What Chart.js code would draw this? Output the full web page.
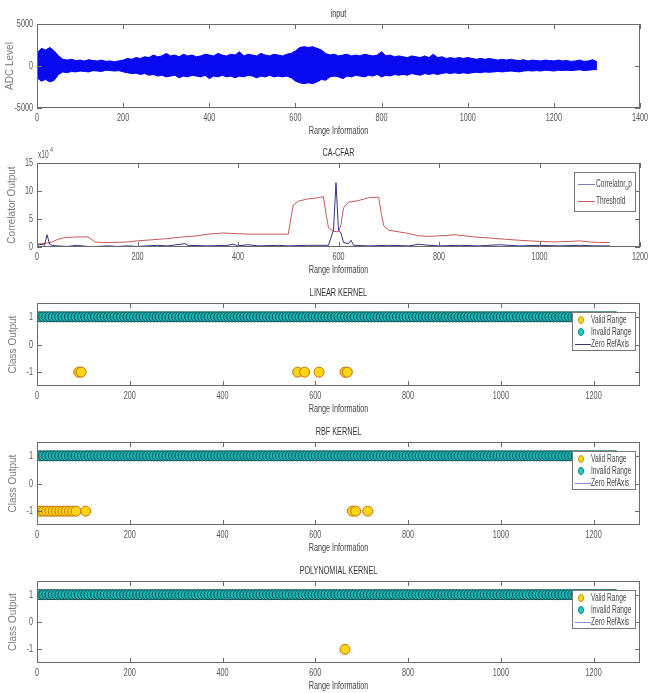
<!DOCTYPE html>
<html>
<head>
<meta charset="utf-8">
<script src="https://cdn.jsdelivr.net/npm/chart.js@4"></script>
<style>
html, body { margin: 0; padding: 0; background: #fff; }
body { width: 649px; height: 693px; position: relative; overflow: hidden; }
.panel { position: absolute; left: 0; width: 649px; }
</style>
</head>
<body>
<div class="panel" id="p1"><canvas id="c1"></canvas></div>
<div class="panel" id="p2"><canvas id="c2"></canvas></div>
<div class="panel" id="p3"><canvas id="c3"></canvas></div>
<div class="panel" id="p4"><canvas id="c4"></canvas></div>
<div class="panel" id="p5"><canvas id="c5"></canvas></div>
<script>
// ---- data ----
var inputStep = 10; // range units between envelope samples
var inputUpper = [1500,2100,1900,2200,1800,1200,800,700,800,650,700,600,750,650,600,700,550,600,500,600,
  700,900,800,1000,900,1100,1000,1300,1100,1200,1500,1200,1300,1100,1400,1200,1300,1100,1200,1400,
  1300,1200,1500,1300,1200,1400,1300,1700,1200,1400,1300,1200,1500,1300,1200,1400,1300,1200,1400,1500,
  1800,2200,2300,2200,2300,2100,1900,1500,1300,1400,1200,1300,1400,1200,1300,1200,1400,1300,1200,1300,
  1700,1200,1300,1100,1200,1100,1000,1200,1100,1000,1200,1000,1400,1000,1100,900,1000,900,1000,900,
  1000,900,800,900,800,900,800,700,800,700,800,700,650,750,600,700,650,600,700,650,
  600,700,600,650,550,600,700,550,600,750,500];
var inputLower = [-1400,-1800,-1600,-1900,-1700,-1000,-700,-800,-650,-700,-600,-650,-700,-550,-600,-650,-500,-550,-600,-550,
  -700,-800,-900,-850,-1000,-900,-1100,-1000,-1200,-1100,-1300,-1200,-1100,-1400,-1200,-1300,-1100,-1200,-1300,-1100,
  -1500,-1200,-1300,-1100,-1300,-1200,-1400,-1200,-1300,-1100,-1200,-1400,-1200,-1300,-1100,-1300,-1200,-1300,-1200,-1400,
  -1800,-2000,-2100,-2000,-2100,-1900,-1600,-1700,-1300,-1200,-1300,-1500,-1200,-1300,-1100,-1200,-1300,-1100,-1200,-1000,
  -1300,-1100,-1200,-1000,-1100,-1000,-1100,-900,-1000,-1100,-900,-1000,-900,-1000,-900,-800,-900,-800,-900,-800,
  -900,-800,-750,-800,-700,-750,-700,-650,-700,-650,-600,-650,-700,-600,-550,-600,-550,-600,-500,-550,
  -600,-500,-550,-500,-550,-500,-450,-550,-500,-450,-400];

// CA-CFAR, values in units of 10^4
var thresholdPts = [[0,0.5],[10,0.6],[20,0.7],[30,0.9],[40,1.3],[50,1.6],[60,1.7],[80,1.8],[100,1.8],[105,1.6],
  [115,0.9],[130,0.8],[150,0.8],[180,0.9],[200,1.1],[230,1.3],[260,1.5],[290,1.8],[320,2.0],[340,2.3],
  [370,2.5],[390,2.4],[420,2.3],[450,2.3],[480,2.3],[500,2.3],[505,5.0],[510,7.5],[520,8.2],[540,8.6],
  [560,8.8],[570,9.0],[575,6.0],[580,3.5],[590,2.8],[600,2.7],[605,4.0],[610,7.0],[620,8.0],[640,8.3],
  [660,8.8],[680,8.9],[685,6.0],[690,3.8],[700,3.0],[720,2.7],[740,2.4],[760,2.0],[780,1.9],[800,2.0],
  [820,2.1],[830,2.2],[850,2.0],[870,1.8],[900,1.6],[930,1.4],[960,1.2],[1000,1.0],[1030,0.9],[1060,1.0],
  [1080,1.1],[1100,0.9],[1120,0.8],[1140,0.8]];
var correlatorPts = [[0,0.3],[10,0.5],[15,0.3],[20,2.2],[25,0.5],[30,0.3],[40,0.2],[60,0.1],[80,0.3],[100,0.1],
  [120,0.1],[140,0.2],[160,0.1],[180,0.2],[200,0.1],[240,0.3],[260,0.2],[295,0.6],[300,0.3],[340,0.2],
  [380,0.3],[390,0.5],[400,0.2],[420,0.4],[440,0.2],[480,0.3],[500,0.2],[540,0.3],[580,0.3],[590,3.0],
  [595,11.5],[600,3.0],[605,2.5],[610,0.8],[620,0.6],[625,1.2],[630,0.3],[660,0.2],[700,0.3],[740,0.2],
  [760,0.5],[780,0.3],[800,0.2],[840,0.3],[880,0.2],[920,0.4],[960,0.2],[1000,0.3],[1040,0.2],[1080,0.3],
  [1110,0.2],[1140,0.2]];

// classifier outputs: samples at +1 are "Invalid", the listed ranges are "Valid" (-1)
var sampleFirst = 0, sampleLast = 1250, sampleStep = 7;
var linearValid = [90, 95, 562, 577, 608, 664, 669];
var rbfValid = [0, 7, 14, 21, 28, 35, 42, 49, 56, 63, 70, 77, 84, 105, 680, 687, 713];
var polyValid = [664];

var inputXTicks = [0, 200, 400, 600, 800, 1000, 1200, 1400];
var inputYTicks = [-5000, 0, 5000];
var cfarXTicks = [0, 200, 400, 600, 800, 1000, 1200];
var cfarYTicks = [0, 5, 10, 15];
var classXTicks = [0, 200, 400, 600, 800, 1000, 1200];
var classYTicks = [-1, 0, 1];

// ---- drawing helpers ----
var FONT = '"Liberation Sans", Arial, sans-serif';
var SQ = 0.66; // the figure text is horizontally squeezed

function txt(ctx, s, x, y, align, size, color, sq) {
  ctx.save();
  ctx.translate(x, y);
  ctx.scale(sq == null ? SQ : sq, 1);
  ctx.font = size + 'px ' + FONT;
  ctx.fillStyle = color;
  ctx.textAlign = align;
  ctx.textBaseline = 'middle';
  ctx.fillText(s, 0, 0);
  ctx.restore();
}
function txtWidth(ctx, s, size) {
  ctx.save();
  ctx.font = size + 'px ' + FONT;
  var w = ctx.measureText(s).width * SQ;
  ctx.restore();
  return w;
}

var matlab = {
  id: 'matlab',
  afterDraw: function(chart, args, o) {
    var ctx = chart.ctx, a = chart.chartArea;
    var xs = chart.scales.x, ys = chart.scales.y;
    ctx.save();
    ctx.strokeStyle = '#6a6a6a';
    ctx.lineWidth = 1;
    ctx.strokeRect(a.left + 0.5, a.top + 0.5, a.right - a.left - 1, a.bottom - a.top - 1);
    ctx.beginPath();
    o.xTicks.forEach(function(v) {
      var px = Math.round(xs.getPixelForValue(v)) + 0.5;
      ctx.moveTo(px, a.bottom); ctx.lineTo(px, a.bottom - 5);
      ctx.moveTo(px, a.top); ctx.lineTo(px, a.top + 5);
    });
    o.yTicks.forEach(function(v) {
      var py = Math.round(ys.getPixelForValue(v)) + 0.5;
      ctx.moveTo(a.left, py); ctx.lineTo(a.left + 5, py);
      ctx.moveTo(a.right, py); ctx.lineTo(a.right - 5, py);
    });
    ctx.stroke();
    o.xTicks.forEach(function(v) {
      txt(ctx, String(v), xs.getPixelForValue(v), a.bottom + 10, 'center', 11, '#555');
    });
    o.yTicks.forEach(function(v) {
      txt(ctx, String(v), a.left - 4, ys.getPixelForValue(v), 'right', 11, '#555');
    });
    var cx = (a.left + a.right) / 2, cy = (a.top + a.bottom) / 2;
    txt(ctx, o.title, cx, a.top - 10, 'center', 11, '#333');
    txt(ctx, o.xlabel, cx, a.bottom + 23, 'center', 11, '#444');
    ctx.save();
    ctx.translate(o.ylabelX, cy);
    ctx.rotate(-Math.PI / 2);
    txt(ctx, o.ylabel, 0, 0, 'center', 10, '#7a7a7a', 1);
    ctx.restore();
    if (o.exponent) {
      txt(ctx, 'x10', a.left + 1, a.top - 8, 'left', 10, '#555');
      txt(ctx, o.exponent, a.left + 13, a.top - 13, 'left', 8, '#555');
    }
    if (o.legend) {
      var L = o.legend;
      var bx = a.right - L.inset - L.w, by = a.top + L.top;
      ctx.fillStyle = '#fff';
      ctx.fillRect(bx, by, L.w, L.h);
      ctx.strokeStyle = '#777';
      ctx.lineWidth = 1;
      ctx.strokeRect(bx + 0.5, by + 0.5, L.w - 1, L.h - 1);
      L.items.forEach(function(it, i) {
        var iy = by + L.first + i * L.gap;
        if (it.kind === 'line') {
          ctx.strokeStyle = it.color;
          ctx.beginPath();
          ctx.moveTo(bx + L.lineX0, iy + 0.5);
          ctx.lineTo(bx + L.lineX1, iy + 0.5);
          ctx.stroke();
        } else {
          ctx.fillStyle = it.fill;
          ctx.strokeStyle = it.color;
          ctx.beginPath();
          ctx.ellipse(bx + L.markX, iy, 2.5, 3.5, 0, 0, Math.PI * 2);
          ctx.fill();
          ctx.stroke();
        }
        txt(ctx, it.label, bx + L.textX, iy, 'left', 10, '#444');
        if (it.sub) {
          var w = txtWidth(ctx, it.label, 10);
          txt(ctx, it.sub, bx + L.textX + w, iy + 4, 'left', 8, '#444');
          txt(ctx, it.after, bx + L.textX + w + 3, iy, 'left', 10, '#444');
        }
      });
    }
    ctx.restore();
  }
};

function panel(id, plotTop, plotBottom, datasets, xMax, yMin, yMax, opts) {
  var div = document.getElementById('p' + id);
  div.style.top = (plotTop - 24) + 'px';
  div.style.height = (plotBottom - plotTop + 54) + 'px';
  return new Chart(document.getElementById('c' + id), {
    type: 'scatter',
    data: { datasets: datasets },
    options: {
      responsive: true,
      maintainAspectRatio: false,
      animation: false,
      events: [],
      layout: { padding: { top: 24, bottom: 30, left: 37, right: 9 } },
      scales: {
        x: { type: 'linear', display: false, min: 0, max: xMax },
        y: { type: 'linear', display: false, min: yMin, max: yMax }
      },
      plugins: { legend: { display: false }, tooltip: { enabled: false }, matlab: opts }
    },
    plugins: [matlab]
  });
}

// ---- panel 1: input ----
var upperPts = inputUpper.map(function(v, i) { return { x: i * inputStep, y: v }; });
var lowerPts = inputLower.map(function(v, i) { return { x: i * inputStep, y: v }; });
panel(1, 24, 108, [
  { data: upperPts, showLine: true, borderColor: '#0000ff', borderWidth: 1, pointRadius: 0, fill: false },
  { data: lowerPts, showLine: true, borderColor: '#0000ff', borderWidth: 1, pointRadius: 0,
    backgroundColor: '#0a0af0', fill: '-1' }
], 1400, -5000, 5000, {
  title: 'input', xlabel: 'Range Information', ylabel: 'ADC Level', ylabelX: 10,
  xTicks: inputXTicks, yTicks: inputYTicks
});

// ---- panel 2: CA-CFAR ----
function toXY(p) { return { x: p[0], y: p[1] }; }
panel(2, 163, 247, [
  { data: correlatorPts.map(toXY), showLine: true, borderColor: '#33338a', borderWidth: 1, pointRadius: 0 },
  { data: thresholdPts.map(toXY), showLine: true, borderColor: '#c85858', borderWidth: 1, pointRadius: 0 }
], 1200, 0, 15, {
  title: 'CA-CFAR', xlabel: 'Range Information', ylabel: 'Correlator Output', ylabelX: 12,
  xTicks: cfarXTicks, yTicks: cfarYTicks, exponent: '4',
  legend: { inset: 4, top: 9, w: 62, h: 40, first: 12, gap: 17, lineX0: 4, lineX1: 21, textX: 22,
    items: [
      { kind: 'line', color: '#7a7ac0', label: 'Correlator', sub: 'o', after: 'p' },
      { kind: 'line', color: '#c85858', label: 'Threshold' }
    ] }
});

// ---- panels 3-5: classifier outputs ----
var samplePositions = [];
for (var s = sampleFirst; s <= sampleLast; s += sampleStep) samplePositions.push(s);

var invalidFill = '#1cb4b4', invalidEdge = '#0a5252';
var validFill = '#ffd51a', validEdge = '#c87000';

function classDatasets(valid) {
  return [
    { data: samplePositions.map(function(x) { return { x: x, y: 1 }; }),
      pointRadius: 5, backgroundColor: invalidFill, borderColor: invalidEdge, borderWidth: 1 },
    { data: valid.map(function(x) { return { x: x, y: -1 }; }),
      pointRadius: 5, backgroundColor: validFill, borderColor: validEdge, borderWidth: 1 }
  ];
}
function classLegend(lineColor) {
  return { inset: 4, top: 9, w: 64, h: 39, first: 8, gap: 12, lineX0: 3, lineX1: 19, markX: 9, textX: 19,
    items: [
      { kind: 'circle', fill: '#ffd81a', color: '#cc9a00', label: 'Valid Range' },
      { kind: 'circle', fill: '#1fd0d0', color: '#0b8080', label: 'Invalid Range' },
      { kind: 'line', color: lineColor, label: 'Zero RefAxis' }
    ] };
}
panel(3, 303, 386, classDatasets(linearValid), 1300, -1.5, 1.5, {
  title: 'LINEAR KERNEL', xlabel: 'Range Information', ylabel: 'Class Output', ylabelX: 13,
  xTicks: classXTicks, yTicks: classYTicks, legend: classLegend('#3a3a6a')
});
panel(4, 442, 525, classDatasets(rbfValid), 1300, -1.5, 1.5, {
  title: 'RBF KERNEL', xlabel: 'Range Information', ylabel: 'Class Output', ylabelX: 13,
  xTicks: classXTicks, yTicks: classYTicks, legend: classLegend('#8c8cc8')
});
panel(5, 581, 663, classDatasets(polyValid), 1300, -1.5, 1.5, {
  title: 'POLYNOMIAL KERNEL', xlabel: 'Range Information', ylabel: 'Class Output', ylabelX: 13,
  xTicks: classXTicks, yTicks: classYTicks, legend: classLegend('#8c8cc8')
});
</script>
</body>
</html>
